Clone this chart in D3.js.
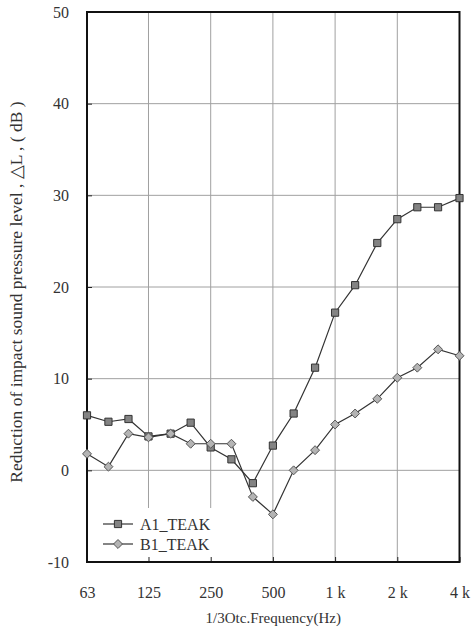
<!DOCTYPE html>
<html><head><meta charset="utf-8">
<script src="https://cdn.jsdelivr.net/npm/d3@7"></script>
<style>
body{margin:0;background:#fff;}
svg{display:block;}
svg text{font-family:"Liberation Serif","Times New Roman",serif;fill:#333;}
</style></head>
<body>
<svg id="chart" width="472" height="631"></svg>
<script>
const freqs = [63,80,100,125,160,200,250,315,400,500,630,800,1000,1250,1600,2000,2500,3150,4000];
const a1Teak = [6.0,5.3,5.6,3.7,4.0,5.2,2.5,1.2,-1.4,2.7,6.2,11.2,17.2,20.2,24.8,27.4,28.7,28.7,29.7];
const b1Teak = [1.8,0.4,4.0,3.6,4.0,2.9,2.9,2.9,-2.9,-4.8,0.0,2.2,5.0,6.2,7.8,10.1,11.2,13.2,12.5];
const xTickVals = [63,125,250,500,1000,2000,4000];
const xTickLabels = ["63","125","250","500","1 k","2 k","4 k"];
const yTickVals = [-10,0,10,20,30,40,50];
const seriesNames = ["A1_TEAK","B1_TEAK"];

const FONT = '"Liberation Serif","Times New Roman",serif';
const svg = d3.select("#chart");
const L = 87, R = 459.5, T = 12, B = 562;
const x = d3.scaleLog().base(2).domain([63,4000]).range([L,R]);
const y = d3.scaleLinear().domain([-10,50]).range([B,T]);

// gridlines
const g = svg.append("g");
g.selectAll("line.hg").data(yTickVals.filter(v=>v>-10&&v<50)).join("line")
  .attr("x1",L).attr("x2",R).attr("y1",d=>y(d)).attr("y2",d=>y(d))
  .attr("stroke","#a0a0a0").attr("stroke-width",1);
g.selectAll("line.vg").data(xTickVals.slice(1,-1)).join("line")
  .attr("x1",d=>x(d)).attr("x2",d=>x(d)).attr("y1",T).attr("y2",B)
  .attr("stroke","#a0a0a0").attr("stroke-width",1);

// legend background (covers gridlines)
svg.append("rect").attr("x",L+1).attr("y",508).attr("width",140).attr("height",B-508-1).attr("fill","#fff");

// axes
const yAxis = d3.axisLeft(y).tickValues(yTickVals).tickSize(-5).tickPadding(18).tickFormat(d=>String(d));
const ya = svg.append("g").attr("transform",`translate(${L},0)`).call(yAxis).attr("font-family",FONT);
ya.select(".domain").remove();
ya.selectAll(".tick line").attr("stroke","#222");
ya.selectAll("text").attr("font-size",16).attr("fill","#333");

const xAxis = d3.axisBottom(x).tickValues(xTickVals).tickSize(-5).tickPadding(25)
  .tickFormat((d,i)=>xTickLabels[i]);
const xa = svg.append("g").attr("transform",`translate(0,${B})`).call(xAxis).attr("font-family",FONT);
xa.select(".domain").remove();
xa.selectAll(".tick line").attr("stroke","#222");
xa.selectAll("text").attr("font-size",16).attr("fill","#333");

// frame
svg.append("rect").attr("x",L).attr("y",T).attr("width",R-L).attr("height",B-T)
  .attr("fill","none").attr("stroke","#111").attr("stroke-width",2);

// series
const line = d3.line().x((d,i)=>x(freqs[i])).y(d=>y(d));
svg.append("path").datum(a1Teak).attr("d",line).attr("fill","none").attr("stroke","#333").attr("stroke-width",1.2);
svg.append("path").datum(b1Teak).attr("d",line).attr("fill","none").attr("stroke","#333").attr("stroke-width",1.2);

const sq = d3.symbol().type(d3.symbolSquare).size(52);
const rhombus = {draw(ctx,size){const r=Math.sqrt(size/2);ctx.moveTo(0,-r);ctx.lineTo(r,0);ctx.lineTo(0,r);ctx.lineTo(-r,0);ctx.closePath();}};
const di = d3.symbol().type(rhombus).size(40);
svg.append("g").selectAll("path").data(a1Teak).join("path")
  .attr("d",sq).attr("transform",(d,i)=>`translate(${x(freqs[i])},${y(d)})`)
  .attr("fill","#838383").attr("stroke","#333").attr("stroke-width",1);
svg.append("g").selectAll("path").data(b1Teak).join("path")
  .attr("d",di).attr("transform",(d,i)=>`translate(${x(freqs[i])},${y(d)})`)
  .attr("fill","#b4b4b4").attr("stroke","#555").attr("stroke-width",1);

// legend
const leg = svg.append("g");
[0,1].forEach(i=>{
  const ly = 524 + i*20;
  leg.append("line").attr("x1",103).attr("x2",133).attr("y1",ly).attr("y2",ly).attr("stroke","#333").attr("stroke-width",1.2);
  leg.append("path").attr("d", i===0?sq:di).attr("transform",`translate(118,${ly})`)
    .attr("fill", i===0?"#838383":"#b4b4b4").attr("stroke", i===0?"#333":"#555");
  leg.append("text").attr("x",140).attr("y",ly+5.5).attr("font-size",16).text(seriesNames[i]);
});

// axis titles
svg.append("text").attr("x",(L+R)/2).attr("y",623).attr("text-anchor","middle").attr("font-size",15)
  .text("1/3Otc.Frequency(Hz)");
svg.append("text").attr("transform",`translate(22,${(T+B)/2+5}) rotate(-90)`).attr("text-anchor","middle")
  .attr("font-size",17.5)
  .text("Reduction of impact sound pressure level , △L , ( dB )");
</script>
</body></html>
